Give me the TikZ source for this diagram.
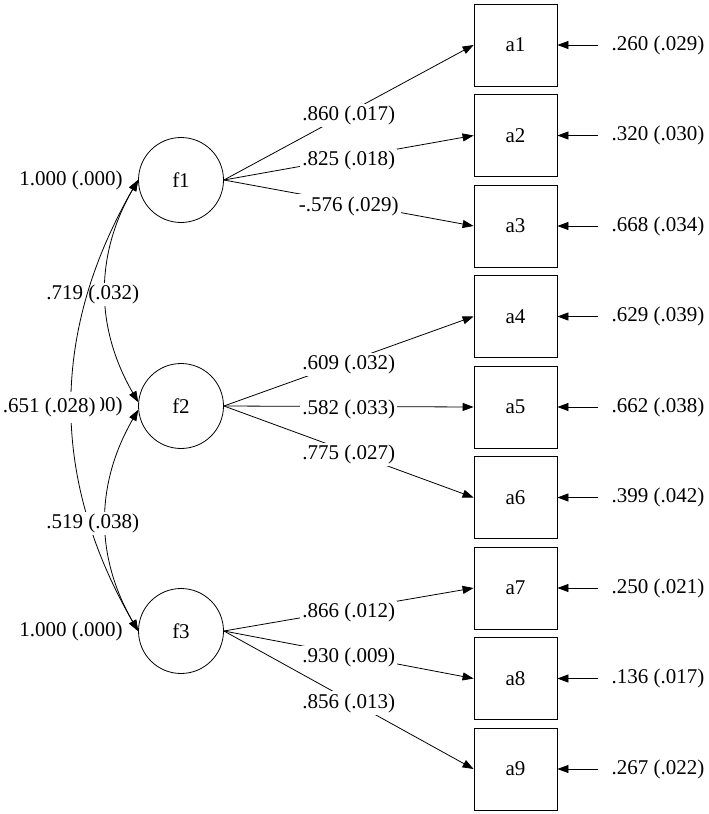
\documentclass[tikz,border=0pt]{standalone}
\usepackage{fontspec}
\setmainfont{Liberation Serif}
\usetikzlibrary{arrows.meta}

\begin{document}
\begin{tikzpicture}[x=1pt, y=-1pt,
	every node/.style={font=\fontsize{21}{25}\selectfont},
	latent/.style={draw, circle, minimum size=85pt, inner sep=0pt, line width=0.8pt},
	indicator/.style={draw, minimum width=83pt, minimum height=82pt, inner sep=0pt, line width=0.8pt},
	coef/.style={fill=white, inner sep=2pt, yshift=-3pt},
	load/.style={line width=0.8pt, -{Triangle[length=11pt,width=8pt]}},
	corr/.style={line width=0.8pt, {Triangle[length=11pt,width=8pt]}-{Triangle[length=11pt,width=8pt]}}]
	\useasboundingbox (0,0) rectangle (709,814);
	% factors
	\node[latent] (f1) at (181,180) {f1};
	\node[latent] (f2) at (181,406) {f2};
	\node[latent] (f3) at (181,631) {f3};
	% items
	\node[indicator] (a1) at (515.5,45) {a1};
	\node[indicator] (a2) at (515.5,135.5) {a2};
	\node[indicator] (a3) at (515.5,226) {a3};
	\node[indicator] (a4) at (515.5,316.5) {a4};
	\node[indicator] (a5) at (515.5,407) {a5};
	\node[indicator] (a6) at (515.5,497.5) {a6};
	\node[indicator] (a7) at (515.5,588) {a7};
	\node[indicator] (a8) at (515.5,678.5) {a8};
	\node[indicator] (a9) at (515.5,769) {a9};
	% residual variances
	\node[anchor=west] (e1) at (608,45) {.260 (.029)};
	\node[anchor=west] (e2) at (608,135.5) {.320 (.030)};
	\node[anchor=west] (e3) at (608,226) {.668 (.034)};
	\node[anchor=west] (e4) at (608,316.5) {.629 (.039)};
	\node[anchor=west] (e5) at (608,407) {.662 (.038)};
	\node[anchor=west] (e6) at (608,497.5) {.399 (.042)};
	\node[anchor=west] (e7) at (608,588) {.250 (.021)};
	\node[anchor=west] (e8) at (608,678.5) {.136 (.017)};
	\node[anchor=west] (e9) at (608,769) {.267 (.022)};
	\draw[load, shorten <=10pt] (e1.west) -- (a1.east);
	\draw[load, shorten <=10pt] (e2.west) -- (a2.east);
	\draw[load, shorten <=10pt] (e3.west) -- (a3.east);
	\draw[load, shorten <=10pt] (e4.west) -- (a4.east);
	\draw[load, shorten <=10pt] (e5.west) -- (a5.east);
	\draw[load, shorten <=10pt] (e6.west) -- (a6.east);
	\draw[load, shorten <=10pt] (e7.west) -- (a7.east);
	\draw[load, shorten <=10pt] (e8.west) -- (a8.east);
	\draw[load, shorten <=10pt] (e9.west) -- (a9.east);
	% loadings
	\draw[load] (f1.east) -- node[coef] (l1) {.860 (.017)} (a1.west);
	\draw[load] (f1.east) -- node[coef] (l2) {.825 (.018)} (a2.west);
	\draw[load] (f1.east) -- node[coef] (l3) {-.576 (.029)} (a3.west);
	\draw[load] (f2.east) -- node[coef] (l4) {.609 (.032)} (a4.west);
	\draw[load] (f2.east) -- node[coef] (l5) {.582 (.033)} (a5.west);
	\draw[load] (f2.east) -- node[coef] (l6) {.775 (.027)} (a6.west);
	\draw[load] (f3.east) -- node[coef] (l7) {.866 (.012)} (a7.west);
	\draw[load] (f3.east) -- node[coef] (l8) {.930 (.009)} (a8.west);
	\draw[load] (f3.east) -- node[coef] (l9) {.856 (.013)} (a9.west);
	% factor variances (f2's is mostly hidden under the .651 label)
	\node (v1) at (71,180) {1.000 (.000)};
	\node (v2) at (71,406) {1.000 (.000)};
	\node (v3) at (71,631) {1.000 (.000)};
	% factor correlations
	\draw[corr] (f1.west) to[bend right=30] node[coef, xshift=-13pt] (r12) {.719 (.032)} (f2.175);
	\draw[corr] (f1.west) to[bend right=30] node[coef, xshift=-23pt, yshift=1pt, inner ysep=6pt, inner xsep=4pt] (r13) {.651 (.028)} (f3.west);
	\draw[corr] (f2.185) to[bend right=30] node[coef, xshift=-13pt] (r23) {.519 (.038)} (f3.west);
\end{tikzpicture}
\end{document}
